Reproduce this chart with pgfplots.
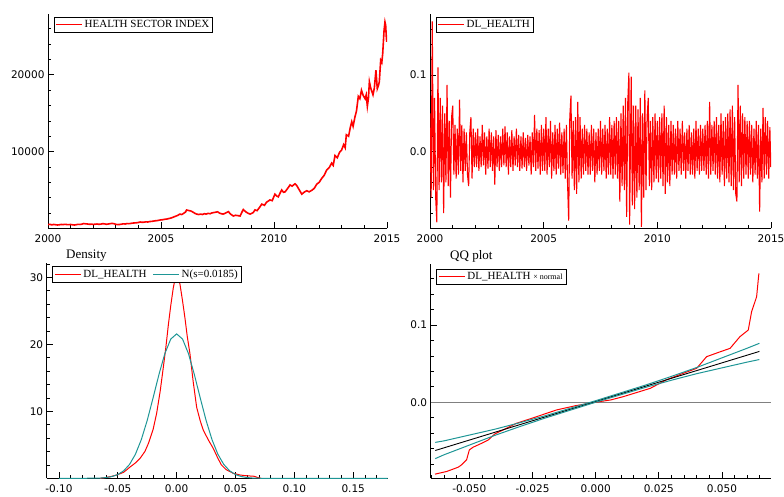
\documentclass[border=0pt]{standalone}
\usepackage{fontspec}
\setmainfont{Liberation Serif}
\newfontfamily\tickfont{DejaVu Sans}
\usepackage{pgfplots}
\pgfplotsset{compat=1.18}

\definecolor{qqteal}{RGB}{30,150,150}
\newcommand\tickfnt{\tickfont\fontsize{10.5}{12}\selectfont}
\newcommand\legfnt{\fontsize{11}{12}\selectfont}

\pgfplotsset{
  panel/.style={
    scale only axis,
    axis x line=bottom, axis y line=left,
    axis line style={-, line width=0.9pt},
    tick align=inside,
    major tick length=6pt, minor tick length=3pt,
    tick style={black, line width=0.8pt},
    scaled ticks=false,
    /pgf/number format/1000 sep={},
    /pgf/number format/assume math mode=true,
    ticklabel style={font=\tickfnt},
    xticklabel style={yshift=-3pt},
    legend style={draw=black, line width=0.9pt, font=\legfnt,
      at={(0,1)}, anchor=north west, xshift=6pt, yshift=-3pt,
      inner sep=1.5pt, outer sep=0pt},
    legend cell align=left,
    legend image code/.code={\draw[##1, line width=1.2pt] (0pt,0pt) -- (26pt,0pt);},
    every axis title/.style={at={(0,1)}, anchor=base west,
      xshift=16pt, yshift=5pt, font=\fontsize{13}{15}\selectfont},
  },
}

\begin{document}
\begin{tikzpicture}
\path[use as bounding box] (0,0) rectangle (784pt,-497pt);

% top left: index level
\begin{axis}[panel,
  at={(48pt,-228.3pt)}, anchor=south west,
  width=339pt, height=214.3pt,
  xmin=2000, xmax=2015, ymin=0, ymax=27940,
  xtick={2000,2005,2010,2015}, minor xtick={2001,2002,...,2014},
  ytick={10000,20000}, minor ytick={2000,4000,...,26000},
]
\addplot[red, line width=1.6pt] coordinates {
(2000.00,480) (2000.08,520) (2000.17,450) (2000.25,500) (2000.33,470) (2000.42,430)
(2000.50,460) (2000.58,500) (2000.67,480) (2000.75,520) (2000.83,490) (2000.92,470)
(2001.00,500) (2001.08,460) (2001.17,430) (2001.25,470) (2001.33,520) (2001.42,500)
(2001.50,540) (2001.58,620) (2001.67,580) (2001.75,560) (2001.83,520) (2001.92,540)
(2002.00,510) (2002.08,530) (2002.17,560) (2002.25,520) (2002.33,540) (2002.42,600)
(2002.50,580) (2002.58,520) (2002.67,560) (2002.75,600) (2002.83,640) (2002.92,600)
(2003.00,520) (2003.08,480) (2003.17,500) (2003.25,540) (2003.33,580) (2003.42,560)
(2003.50,620) (2003.58,600) (2003.67,640) (2003.75,680) (2003.83,700) (2003.92,720)
(2004.00,760) (2004.08,820) (2004.17,780) (2004.25,800) (2004.33,840) (2004.42,820)
(2004.50,880) (2004.58,900) (2004.67,940) (2004.75,980) (2004.83,1000) (2004.92,1060)
(2005.00,1100) (2005.08,1120) (2005.17,1180) (2005.25,1200) (2005.33,1260) (2005.42,1320)
(2005.50,1400) (2005.58,1500) (2005.67,1600) (2005.75,1700) (2005.83,1850) (2005.92,1800)
(2006.00,1950) (2006.08,2100) (2006.13,2390) (2006.25,2300) (2006.33,2250) (2006.42,2100)
(2006.50,1950) (2006.58,1850) (2006.67,1800) (2006.75,1850) (2006.83,1800) (2006.92,1900)
(2007.00,1850) (2007.08,1950) (2007.17,1900) (2007.25,2000) (2007.33,2050) (2007.42,2100)
(2007.50,2150) (2007.61,1950) (2007.67,1900) (2007.75,1850) (2007.83,1950) (2007.98,2170)
(2008.08,1850) (2008.20,1600) (2008.30,1700) (2008.40,1650) (2008.50,1600) (2008.58,2100)
(2008.64,2450) (2008.75,2150) (2008.83,2000) (2008.94,1850) (2009.08,2050) (2009.16,2400)
(2009.25,2300) (2009.33,2600) (2009.46,3150) (2009.58,3000) (2009.67,3400) (2009.82,3700)
(2009.92,3600) (2010.04,4450) (2010.12,4200) (2010.19,4100) (2010.27,4600) (2010.34,5000)
(2010.42,4700) (2010.49,4750) (2010.58,5100) (2010.71,5650) (2010.80,5500) (2010.93,5800)
(2011.00,5600) (2011.08,5200) (2011.16,4800) (2011.23,4450) (2011.33,4700) (2011.45,4900)
(2011.55,4750) (2011.67,4950) (2011.78,5200) (2011.89,5750) (2012.00,6000) (2012.11,6500)
(2012.22,6900) (2012.33,7600) (2012.44,7900) (2012.55,8500) (2012.62,8200) (2012.70,9500)
(2012.80,9200) (2012.90,9900) (2012.99,10200) (2013.08,10900) (2013.15,10500) (2013.20,12200)
(2013.30,12000) (2013.38,13200) (2013.44,13900) (2013.50,13300) (2013.58,14500) (2013.65,15300)
(2013.73,17200) (2013.80,16900) (2013.87,18000) (2013.95,17300) (2014.03,16900) (2014.08,17400)
(2014.13,15900) (2014.18,17000) (2014.22,19100) (2014.27,18400) (2014.31,18000) (2014.38,17400)
(2014.44,18300) (2014.51,20600) (2014.57,18200) (2014.62,18600) (2014.66,19100) (2014.72,21900)
(2014.77,21600) (2014.81,22800) (2014.87,25800) (2014.91,26900) (2014.94,26500) (2014.97,24900)
(2014.99,24300)
};
\addlegendentry{HEALTH SECTOR INDEX}
\end{axis}

% top right: log returns
\begin{axis}[panel,
  at={(430pt,-228.3pt)}, anchor=south west,
  width=341pt, height=214.3pt,
  xmin=2000, xmax=2015, ymin=-0.0999, ymax=0.1795,
  xtick={2000,2005,2010,2015}, minor xtick={2001,2002,...,2014},
  ytick={0,0.1}, minor ytick={-0.08,-0.06,-0.04,-0.02,0.02,0.04,0.06,0.08,0.12,0.14,0.16},
  yticklabel style={/pgf/number format/fixed, /pgf/number format/fixed zerofill,
    /pgf/number format/precision=1},
]
\addplot[red, line width=1.1pt] coordinates {
(2000.00,0.05) (2000.05,-0.06) (2000.10,0.17) (2000.15,-0.05) (2000.20,0.07) (2000.25,-0.06) (2000.30,-0.092) (2000.35,0.11) (2000.40,-0.05) (2000.45,0.07)
(2000.50,-0.04) (2000.55,0.06) (2000.60,-0.08) (2000.65,0.05) (2000.70,-0.04) (2000.75,0.087) (2000.80,-0.045) (2000.85,0.04) (2000.90,-0.06) (2000.95,0.045)
(2001.00,0.06) (2001.05,-0.03) (2001.10,0.035) (2001.15,-0.035) (2001.20,0.03) (2001.25,-0.03) (2001.30,0.068) (2001.35,-0.025) (2001.40,0.035) (2001.45,-0.04)
(2001.50,0.03) (2001.55,-0.025) (2001.60,0.025) (2001.65,-0.03) (2001.70,-0.045) (2001.75,0.025) (2001.80,0.045) (2001.85,-0.035) (2001.90,0.03) (2001.95,-0.02)
(2002.00,0.025) (2002.05,-0.02) (2002.10,0.03) (2002.15,-0.025) (2002.20,0.02) (2002.25,-0.02) (2002.30,0.035) (2002.35,-0.018) (2002.40,0.025) (2002.45,-0.03)
(2002.50,0.02) (2002.55,-0.022) (2002.60,0.03) (2002.65,-0.02) (2002.70,0.025) (2002.75,-0.025) (2002.80,0.02) (2002.85,-0.043) (2002.90,0.028) (2002.95,-0.02)
(2003.00,0.022) (2003.05,-0.025) (2003.10,0.02) (2003.15,-0.02) (2003.20,0.03) (2003.25,-0.018) (2003.30,0.033) (2003.35,-0.02) (2003.40,0.025) (2003.45,-0.03)
(2003.50,0.02) (2003.55,-0.02) (2003.60,0.028) (2003.65,-0.025) (2003.70,0.02) (2003.75,-0.018) (2003.80,0.03) (2003.85,-0.02) (2003.90,0.022) (2003.95,-0.025)
(2004.00,0.02) (2004.05,-0.022) (2004.10,0.025) (2004.15,-0.02) (2004.20,0.018) (2004.25,-0.025) (2004.30,0.022) (2004.35,-0.018) (2004.40,0.02) (2004.45,-0.03)
(2004.50,0.025) (2004.55,-0.02) (2004.60,0.048) (2004.65,-0.025) (2004.70,0.03) (2004.75,-0.022) (2004.80,0.028) (2004.85,-0.03) (2004.90,0.035) (2004.95,-0.025)
(2005.00,0.03) (2005.05,-0.025) (2005.10,0.045) (2005.15,-0.03) (2005.20,0.03) (2005.25,-0.02) (2005.30,0.04) (2005.35,-0.035) (2005.40,0.025) (2005.45,-0.025)
(2005.50,0.035) (2005.55,-0.03) (2005.60,0.03) (2005.65,-0.022) (2005.70,0.038) (2005.75,-0.03) (2005.80,0.025) (2005.85,-0.028) (2005.90,0.03) (2005.95,-0.035)
(2006.00,0.035) (2006.05,-0.04) (2006.10,-0.09) (2006.15,0.045) (2006.20,0.073) (2006.25,-0.035) (2006.30,0.04) (2006.35,-0.05) (2006.40,0.045) (2006.45,-0.055)
(2006.50,0.065) (2006.55,-0.04) (2006.60,0.045) (2006.65,-0.035) (2006.70,0.03) (2006.75,-0.03) (2006.80,0.035) (2006.85,-0.025) (2006.90,0.03) (2006.95,-0.03)
(2007.00,0.025) (2007.05,-0.03) (2007.10,0.035) (2007.15,-0.025) (2007.20,0.03) (2007.25,-0.04) (2007.30,0.025) (2007.35,-0.03) (2007.40,0.03) (2007.45,-0.025)
(2007.50,0.04) (2007.55,-0.03) (2007.60,0.03) (2007.65,-0.025) (2007.70,0.035) (2007.75,-0.035) (2007.80,0.03) (2007.85,-0.03) (2007.90,0.045) (2007.95,-0.03)
(2008.00,0.035) (2008.05,-0.035) (2008.10,0.04) (2008.15,-0.03) (2008.20,0.045) (2008.25,-0.035) (2008.30,0.04) (2008.35,-0.065) (2008.40,0.05) (2008.45,-0.045)
(2008.50,0.06) (2008.55,-0.05) (2008.60,0.07) (2008.65,-0.085) (2008.70,0.065) (2008.75,0.103) (2008.78,-0.095) (2008.85,0.098) (2008.90,-0.07) (2008.95,0.06)
(2009.00,-0.075) (2009.05,0.06) (2009.10,-0.06) (2009.15,0.055) (2009.20,-0.05) (2009.25,0.07) (2009.30,-0.098) (2009.35,0.05) (2009.40,-0.06) (2009.45,0.08)
(2009.50,-0.05) (2009.55,0.045) (2009.60,0.07) (2009.65,-0.045) (2009.70,0.04) (2009.75,-0.05) (2009.80,0.045) (2009.85,-0.04) (2009.90,0.05) (2009.95,-0.035)
(2010.00,0.04) (2010.05,-0.04) (2010.10,0.045) (2010.15,-0.035) (2010.20,0.05) (2010.25,-0.045) (2010.30,0.06) (2010.35,-0.055) (2010.40,0.045) (2010.45,-0.04)
(2010.50,0.035) (2010.55,-0.045) (2010.60,0.04) (2010.65,-0.03) (2010.70,0.035) (2010.75,-0.03) (2010.80,0.03) (2010.85,-0.035) (2010.90,0.04) (2010.95,-0.025)
(2011.00,0.03) (2011.05,-0.03) (2011.10,0.04) (2011.15,-0.025) (2011.20,0.025) (2011.25,-0.035) (2011.30,0.03) (2011.35,-0.025) (2011.40,0.035) (2011.45,-0.03)
(2011.50,0.025) (2011.55,-0.03) (2011.60,0.03) (2011.65,-0.035) (2011.70,0.04) (2011.75,-0.025) (2011.80,0.03) (2011.85,-0.03) (2011.90,0.035) (2011.95,-0.025)
(2012.00,0.03) (2012.05,-0.025) (2012.10,0.035) (2012.15,-0.03) (2012.20,0.04) (2012.25,-0.035) (2012.30,0.065) (2012.35,-0.03) (2012.40,0.035) (2012.45,-0.025)
(2012.50,0.04) (2012.55,-0.03) (2012.60,0.045) (2012.65,-0.035) (2012.70,0.035) (2012.75,-0.04) (2012.80,0.05) (2012.85,-0.03) (2012.90,0.04) (2012.95,-0.045)
(2013.00,0.045) (2013.05,-0.035) (2013.10,0.05) (2013.15,-0.04) (2013.20,0.055) (2013.25,-0.045) (2013.30,0.06) (2013.35,-0.05) (2013.40,0.045) (2013.45,-0.055)
(2013.50,-0.065) (2013.55,0.087) (2013.60,-0.04) (2013.65,0.06) (2013.70,-0.045) (2013.75,0.05) (2013.80,-0.035) (2013.85,0.045) (2013.90,-0.03) (2013.95,0.04)
(2014.00,-0.035) (2014.05,0.04) (2014.10,-0.03) (2014.15,0.035) (2014.20,-0.04) (2014.25,0.03) (2014.30,-0.03) (2014.35,0.04) (2014.40,-0.035) (2014.45,0.035)
(2014.50,-0.078) (2014.55,0.03) (2014.60,-0.04) (2014.65,0.057) (2014.70,-0.035) (2014.75,0.045) (2014.80,-0.03) (2014.85,0.04) (2014.90,-0.035) (2014.95,0.032)
(2014.99,-0.02)
};
\addlegendentry{DL\_HEALTH}
\end{axis}

% bottom left: density
\begin{axis}[panel,
  at={(46.7pt,-478.3pt)}, anchor=south west,
  width=341pt, height=215pt,
  xmin=-0.1104, xmax=0.1793, ymin=0, ymax=32.1,
  title={Density},
  xtick={-0.10,-0.05,0,0.05,0.10,0.15},
  minor xtick={-0.09,-0.08,-0.07,-0.06,-0.04,-0.03,-0.02,-0.01,0.01,0.02,0.03,0.04,0.06,0.07,0.08,0.09,0.11,0.12,0.13,0.14,0.16,0.17},
  xticklabel style={/pgf/number format/fixed, /pgf/number format/fixed zerofill,
    /pgf/number format/precision=2},
  ytick={10,20,30}, minor ytick={2,4,6,8,12,14,16,18,22,24,26,28,32},
  legend columns=2,
  legend style={/tikz/every even column/.append style={column sep=4pt}},
]
\addplot[red, line width=1pt] coordinates {
(-0.065,0) (-0.0607,0.1) (-0.055,0.3) (-0.0508,0.5) (-0.045,0.9) (-0.0395,1.7)
(-0.035,2.3) (-0.031,3.0) (-0.027,4.0) (-0.024,5.2) (-0.020,7.3) (-0.017,9.7)
(-0.014,13.0) (-0.0113,16.6) (-0.009,19.8) (-0.007,23.0) (-0.005,25.8) (-0.0028,28.5)
(-0.001,30.0) (0.0005,30.5) (0.0028,29.0) (0.005,26.5) (0.007,24.0) (0.009,21.2)
(0.0113,18.6) (0.014,14.5) (0.017,10.6) (0.020,8.6) (0.0226,7.2) (0.027,5.7)
(0.031,4.5) (0.035,3.0) (0.038,2.0) (0.042,1.3) (0.048,0.75) (0.0537,0.5)
(0.058,0.4) (0.062,0.35) (0.066,0.3) (0.069,0.1) (0.072,0)
};
\addlegendentry{DL\_HEALTH}
\addplot[qqteal, line width=1pt] coordinates {
(-0.100,0) (-0.070,0.01) (-0.065,0.03) (-0.060,0.11) (-0.055,0.26) (-0.050,0.56)
(-0.045,1.12) (-0.040,2.08) (-0.035,3.60) (-0.030,5.79) (-0.025,8.65) (-0.020,12.02)
(-0.015,15.52) (-0.010,18.63) (-0.005,20.79) (0,21.56) (0.005,20.79) (0.010,18.63)
(0.015,15.52) (0.020,12.02) (0.025,8.65) (0.030,5.79) (0.035,3.60) (0.040,2.08)
(0.045,1.12) (0.050,0.56) (0.055,0.26) (0.060,0.11) (0.065,0.03) (0.070,0.01)
(0.075,0) (0.1793,0)
};
\addlegendentry{N(s=0.0185)}
\end{axis}

% bottom right: QQ plot
\begin{axis}[panel,
  at={(430.7pt,-478.3pt)}, anchor=south west,
  width=340.3pt, height=214.3pt,
  xmin=-0.0653, xmax=0.0694, ymin=-0.0985, ymax=0.179,
  title={QQ plot},
  xtick={-0.05,-0.025,0,0.025,0.05},
  minor xtick={-0.065,-0.06,-0.055,-0.045,-0.04,-0.035,-0.03,-0.02,-0.015,-0.01,-0.005,0.005,0.01,0.015,0.02,0.03,0.035,0.04,0.045,0.055,0.06,0.065},
  xticklabel style={/pgf/number format/fixed, /pgf/number format/fixed zerofill,
    /pgf/number format/precision=3},
  ytick={0,0.1}, minor ytick={-0.08,-0.06,-0.04,-0.02,0.02,0.04,0.06,0.08,0.12,0.14,0.16},
  yticklabel style={/pgf/number format/fixed, /pgf/number format/fixed zerofill,
    /pgf/number format/precision=1},
  legend style={yshift=-2pt},
]
\addplot[gray, line width=0.9pt, forget plot] coordinates {(-0.0653,0) (0.0694,0)};
\addplot[red, line width=1pt] coordinates {
(-0.0636,-0.0931) (-0.059,-0.0897) (-0.0544,-0.0841) (-0.0531,-0.0811) (-0.0511,-0.0746)
(-0.0500,-0.0617) (-0.0485,-0.0582) (-0.0451,-0.0531) (-0.0425,-0.0488) (-0.0399,-0.0410)
(-0.0366,-0.0358) (-0.0313,-0.0272) (-0.0250,-0.0205) (-0.0155,-0.0100) (-0.0080,-0.0045)
(0,0) (0.006,0.003) (0.011,0.0073) (0.0216,0.018) (0.028,0.029) (0.0347,0.0375)
(0.0400,0.0440) (0.0439,0.0590) (0.0490,0.0650) (0.0532,0.0698) (0.0571,0.0849)
(0.0604,0.0935) (0.0617,0.1170) (0.0637,0.1366) (0.0646,0.1669)
};
\addlegendentry{DL\_HEALTH {\fontsize{8}{9}\selectfont × normal}}
\addplot[black, line width=0.9pt, forget plot] coordinates {(-0.0635,-0.0625) (0.0648,0.0658)};
\addplot[qqteal, line width=1pt, forget plot] coordinates {
(-0.0635,-0.052) (-0.06,-0.050) (-0.05,-0.0425) (-0.04,-0.035) (-0.03,-0.0265)
(-0.02,-0.0175) (0,0.002) (0.02,0.0225) (0.03,0.0335) (0.04,0.045) (0.05,0.0575)
(0.06,0.070) (0.0648,0.0763)
};
\addplot[qqteal, line width=1pt, forget plot] coordinates {
(-0.0635,-0.073) (-0.06,-0.068) (-0.05,-0.0555) (-0.04,-0.043) (-0.03,-0.0315)
(-0.02,-0.0205) (0,0.000) (0.02,0.0195) (0.03,0.0285) (0.04,0.037) (0.05,0.0445)
(0.06,0.052) (0.0648,0.0553)
};
\end{axis}
\end{tikzpicture}
\end{document}
